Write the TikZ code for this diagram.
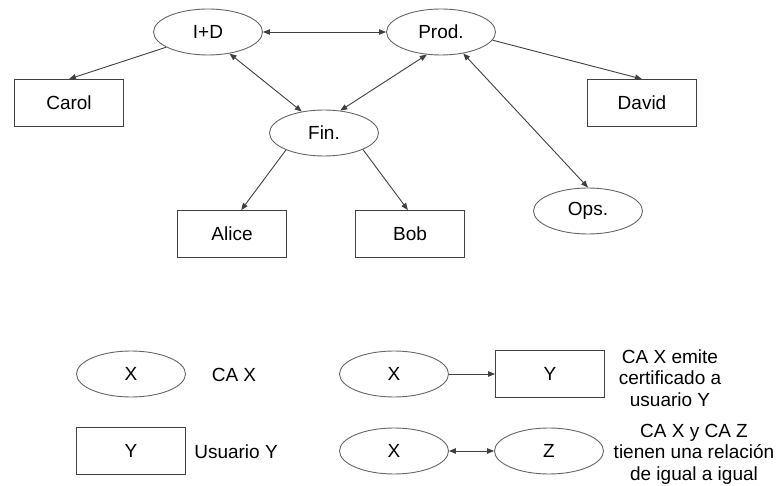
\documentclass[tikz,border=0pt]{standalone}
\usepackage{fontspec}
\setmainfont{Liberation Sans}
\usetikzlibrary{shapes.geometric,arrows.meta}
\begin{document}
\begin{tikzpicture}[x=1pt,y=-1pt,
  every node/.style={font=\fontsize{19}{21.5}\selectfont, text=black},
  ca/.style={ellipse, draw=black!60, line width=0.9pt, minimum width=109pt, minimum height=46pt, inner sep=0pt},
  user/.style={rectangle, draw=black!75, line width=0.9pt, minimum width=109pt, minimum height=47pt, inner sep=0pt},
  lbl/.style={align=center, inner sep=0pt},
  conn/.style={draw=black!75, line width=0.9pt},
  one/.style={conn, -{Triangle[length=7pt,width=5.5pt]}},
  two/.style={conn, {Triangle[length=7pt,width=5.5pt]}-{Triangle[length=7pt,width=5.5pt]}}
]
\useasboundingbox (0,0) rectangle (779,486);
\fill[white] (0,0) rectangle (779,486);

% graph
\node[ca] (ID) at (208,32) {I+D};
\node[ca] (Prod) at (441,32) {Prod.};
\node[ca] (Fin) at (324,133) {Fin.};
\node[ca] (Ops) at (588,211) {Ops.};
\node[user] (Carol) at (69,103) {Carol};
\node[user] (David) at (642,103) {David};
\node[user] (Alice) at (232,234) {Alice};
\node[user] (Bob) at (410,234) {Bob};

\draw[two] (ID.east) -- (Prod.west);
\draw[one] (ID.200) -- (Carol.north);
\draw[two] (ID.315) -- (Fin.136);
\draw[two] (Prod.238) -- (Fin.54);
\draw[one] (Prod.351) -- (David.north);
\draw[two] (Prod.316) -- (Ops.north);
\draw[one] (Fin.204) -- (Alice.69);
\draw[one] (Fin.337) -- (Bob.95);

% legend
\node[ca] (LX1) at (131,374) {X};
\node[lbl] (LT1) at (234,375) {CA X};
\node[user] (LY1) at (131,451) {Y};
\node[lbl] (LT2) at (236,452) {Usuario Y};

\node[ca] (LX2) at (394,374) {X};
\node[user] (LY2) at (550,374) {Y};
\draw[one] (LX2.east) -- (LY2.west);
\node[lbl] (LT3) at (670,378) {CA X emite\\certificado a\\usuario Y};

\node[ca] (LX3) at (394,451) {X};
\node[ca] (LZ) at (549,451) {Z};
\draw[two] (LX3.east) -- (LZ.west);
\node[lbl] (LT4) at (694,454) {CA X y CA Z\\tienen una relación\\de igual a igual};
\end{tikzpicture}
\end{document}
